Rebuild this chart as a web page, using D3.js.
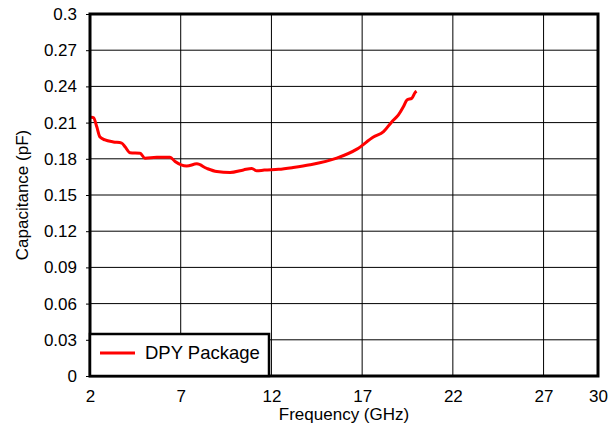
<!DOCTYPE html>
<html>
<head>
<meta charset="utf-8">
<script src="https://cdn.jsdelivr.net/npm/d3@7"></script>
<style>
  body { margin: 0; background: #fff; }
  svg { display: block; font-family: "Liberation Sans", Arial, sans-serif; }
</style>
</head>
<body>
<svg id="chart" width="616" height="425"></svg>
<script>
// --- data ---
const freqGHz = [2.0, 2.09, 2.2, 2.37, 2.55, 2.83, 3.29, 3.75, 3.93, 4.21, 4.76, 5.03, 5.68, 6.41, 6.69,
                 7.33, 7.89, 8.44, 8.99, 9.72, 10.46, 10.92, 11.19, 11.6, 12.39, 13.2, 14.13, 15.6, 16.71,
                 17.62, 18.18, 18.64, 19.0, 19.28, 19.47, 19.74, 19.93, 20.0];
const capPF = [0.214, 0.2145, 0.214, 0.2067, 0.198, 0.1956, 0.194, 0.193, 0.190, 0.185, 0.1846, 0.1805,
               0.1813, 0.1813, 0.1777, 0.174, 0.1758, 0.172, 0.1694, 0.1686, 0.1708, 0.172, 0.170, 0.1707,
               0.1713, 0.1728, 0.175, 0.1805, 0.188, 0.198, 0.2025, 0.2108, 0.2164, 0.2233, 0.2288, 0.2302,
               0.2352, 0.236];
const xTicks = [2, 7, 12, 17, 22, 27, 30];
const yTicks = [0, 0.03, 0.06, 0.09, 0.12, 0.15, 0.18, 0.21, 0.24, 0.27, 0.3];
const seriesName = "DPY Package";

const svg = d3.select("#chart");
const margin = { top: 14, right: 18, bottom: 49, left: 90 };
const width = 616 - margin.left - margin.right;
const height = 425 - margin.top - margin.bottom;

const g = svg.append("g").attr("transform", `translate(${margin.left},${margin.top})`);

const x = d3.scaleLinear().domain([2, 30]).range([0, width]);
const y = d3.scaleLinear().domain([0, 0.3]).range([height, 0]);

// grid
g.selectAll(".vgrid").data(xTicks.filter(d => d > 2 && d < 30)).enter().append("line")
  .attr("x1", d => x(d)).attr("x2", d => x(d)).attr("y1", 0).attr("y2", height)
  .attr("stroke", "#000").attr("stroke-width", 1);
g.selectAll(".hgrid").data(yTicks.filter(d => d > 0 && d < 0.3)).enter().append("line")
  .attr("x1", 0).attr("x2", width).attr("y1", d => y(d)).attr("y2", d => y(d))
  .attr("stroke", "#000").attr("stroke-width", 1);

// axes
const xAxis = g.append("g").attr("transform", `translate(0,${height})`)
  .call(d3.axisBottom(x).tickValues(xTicks).tickSize(0).tickPadding(14).tickFormat(d3.format("d")));
const yAxis = g.append("g")
  .call(d3.axisLeft(y).tickValues(yTicks).tickSize(4).tickPadding(9).tickFormat(d => d === 0 ? "0" : String(+d.toFixed(2))));
[xAxis, yAxis].forEach(a => {
  a.select(".domain").remove();
  a.selectAll("line").attr("stroke", "#000");
  a.selectAll("text").attr("font-size", 17).attr("fill", "#000").attr("font-family", "Liberation Sans, Arial, sans-serif");
});

// curve
const line = d3.line().x(d => x(d[0])).y(d => y(d[1])).curve(d3.curveMonotoneX);
g.append("path")
  .datum(freqGHz.map((f, i) => [f, capPF[i]]))
  .attr("fill", "none").attr("stroke", "#ff0000").attr("stroke-width", 3)
  .attr("stroke-linejoin", "round").attr("d", line);

// frame
g.append("rect").attr("x", 0).attr("y", 0).attr("width", width).attr("height", height)
  .attr("fill", "none").attr("stroke", "#000").attr("stroke-width", 3);

// legend
const lg = g.append("g").attr("transform", `translate(0,${height - 42})`);
lg.append("rect").attr("x", 0).attr("y", 0).attr("width", 179).attr("height", 42)
  .attr("fill", "#fff").attr("stroke", "#000").attr("stroke-width", 2.5);
lg.append("line").attr("x1", 10).attr("x2", 45).attr("y1", 19).attr("y2", 19)
  .attr("stroke", "#ff0000").attr("stroke-width", 3);
lg.append("text").attr("x", 55).attr("y", 25).attr("font-size", 18.5).attr("fill", "#000").text(seriesName);

// axis titles
svg.append("text").attr("x", margin.left + width / 2).attr("y", 420)
  .attr("text-anchor", "middle").attr("font-size", 17).attr("fill", "#000").text("Frequency (GHz)");
svg.append("text").attr("transform", `translate(28,${margin.top + height / 2}) rotate(-90)`)
  .attr("text-anchor", "middle").attr("font-size", 17).attr("fill", "#000").text("Capacitance (pF)");
</script>
</body>
</html>
